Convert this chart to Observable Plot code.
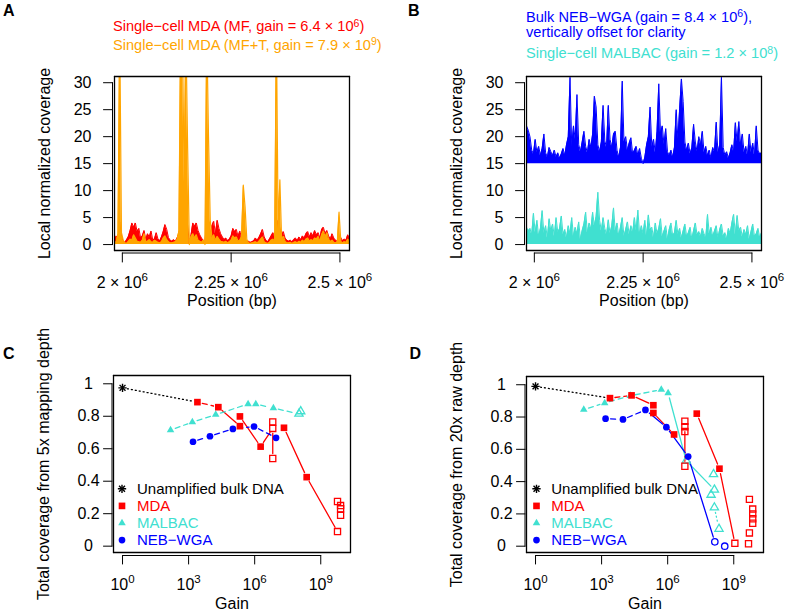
<!DOCTYPE html>
<html><head><meta charset="utf-8">
<script src="https://cdn.jsdelivr.net/npm/d3@7"></script>
<script src="https://cdn.jsdelivr.net/npm/@observablehq/plot@0.6"></script>
<style>
body{margin:0;background:#fff;}
#wrap{position:relative;width:786px;height:611px;font-family:"Liberation Sans",Arial,Helvetica,sans-serif;overflow:hidden;background:#fff}
</style></head><body><div id="wrap"></div>
<script>
// ---------- DATA ----------
// coverage tracks: bins every 4 kb starting at 1,982,000 bp
const posStart = 1982000, posStep = 4000;
const mdaMF = [0.8,1.6,1.0,4.2,1.5,0.6,0.4,0.9,1.5,2.6,
 4.0,3.2,4.0,2.4,3.0,1.2,1.6,2.6,0.9,2.0,
 1.4,2.5,0.8,1.1,2.2,1.0,0.7,1.4,2.4,3.7,
 2.8,1.3,0.8,0.6,0.9,0.6,1.2,2.0,3.5,2.8,
 5.2,4.8,3.6,0.2,1.8,4.0,3.4,4.0,2.6,1.8,
 1.2,0.8,0.2,6.0,4.0,1.6,3.5,4.3,2.0,4.5,
 3.0,2.0,1.4,0.9,1.2,0.7,1.0,1.6,3.0,2.4,
 2.8,1.5,2.5,1.2,0.8,0.5,0.4,0.6,0.4,0.5,
 0.7,1.2,0.8,1.3,2.0,2.8,1.4,0.8,0.5,1.0,
 1.6,2.2,1.5,2.8,4.5,3.0,1.6,2.4,1.2,0.8,
 0.6,0.8,0.5,0.9,1.2,0.7,1.4,0.9,1.6,1.2,
 2.0,2.4,1.4,2.2,1.6,2.6,1.8,2.2,1.2,2.8,
 3.2,2.0,2.6,1.6,1.0,2.0,1.2,0.8,0.6,0.9,
 1.3,0.7,1.0,0.8,1.8,1.2];
const mdaMFT = [0.3,0.5,2.0,40,2.2,0.8,0.3,0.2,0.6,1.0,
 0.8,1.8,1.2,0.6,0.5,0.4,0.8,2.0,0.5,0.6,
 0.9,0.5,0.4,0.8,0.6,0.4,0.3,0.5,1.2,1.6,
 0.9,0.5,0.3,0.3,0.4,0.5,1.0,2.5,40,40,
 11.5,40,18,0.0,1.5,2.0,1.2,1.8,0.8,0.6,
 0.4,0.8,0.0,40,20,4.5,1.2,1.8,0.8,1.5,
 1.0,0.6,0.5,0.4,0.6,0.3,0.5,0.8,1.6,1.2,
 1.4,0.6,0.8,1.5,11,7,1.0,0.3,0.2,0.3,
 0.4,0.5,0.3,0.6,1.0,1.4,0.5,0.3,0.2,0.4,
 0.8,1.0,0.6,40,3.0,12,1.0,1.5,0.6,0.3,
 0.3,0.4,0.2,0.4,0.5,0.3,0.6,0.4,0.8,0.5,
 1.0,1.2,0.6,0.9,0.7,1.2,1.0,1.5,0.6,1.8,
 2.5,1.4,2.2,1.0,0.5,0.8,0.4,0.3,0.5,6.0,
 0.6,0.3,0.5,0.4,1.0,0.6];
const nebOffset = 15; // "vertically offset for clarity"
const nebTrack = [7.0,6.2,5.0,2.5,1.8,4.5,2.0,3.2,1.5,2.8,
 5.5,2.0,1.2,3.0,2.2,1.5,2.5,1.2,2.0,1.0,
 1.8,2.8,1.5,3.5,5.0,16.0,3.0,7.0,4.5,12.8,
 3.5,2.2,4.0,6.0,3.2,2.0,4.5,3.0,5.5,12.5,
 10.5,3.5,2.2,4.0,10.8,4.2,3.0,10.8,4.5,3.0,
 5.5,6.0,2.5,1.2,3.0,15.3,4.0,5.0,2.5,3.8,
 4.8,1.8,2.5,3.2,1.5,2.8,1.0,0.0,1.2,3.5,
 5.0,10.5,3.0,4.5,2.0,6.0,14.8,5.5,7.0,3.5,
 6.5,2.2,1.5,2.5,1.2,3.0,10.0,4.5,10.2,15.7,
 11.5,4.0,2.5,3.8,1.8,3.0,7.3,4.0,2.2,5.0,
 3.5,6.0,2.0,3.2,1.5,2.5,1.0,3.0,2.2,7.7,
 2.0,3.5,16.0,3.0,1.5,2.2,1.0,2.0,3.5,2.2,
 7.6,4.0,7.8,3.5,5.5,2.0,3.2,1.5,5.5,2.0,
 3.8,1.5,7.0,2.5,1.8,2.0];
const malbacTrack = [3.2,2.5,3.0,1.8,5.8,2.2,4.5,1.5,3.0,6.3,
 2.0,3.5,1.2,4.8,2.5,3.8,1.5,5.0,2.2,3.0,
 5.3,1.8,2.8,1.2,3.5,2.0,5.0,1.5,3.2,2.0,
 4.2,1.0,2.6,3.8,6.0,2.2,4.0,2.8,6.0,3.5,
 5.2,9.7,4.5,2.5,5.0,3.0,1.8,4.6,2.0,3.5,
 6.8,2.5,4.0,1.6,3.2,5.0,1.5,2.8,4.2,1.8,
 3.5,2.2,5.0,2.5,6.4,1.8,3.5,2.0,4.5,1.5,
 5.5,2.8,3.2,1.2,4.0,2.0,3.0,4.8,1.5,2.5,
 3.5,1.0,2.8,4.0,1.6,2.2,4.5,1.8,3.0,1.2,
 2.5,3.8,1.5,2.2,3.2,1.0,2.6,4.0,1.8,2.4,
 1.5,3.0,2.0,1.2,5.6,2.0,3.2,1.5,2.5,3.5,
 1.2,2.8,3.8,1.6,2.2,1.0,3.0,2.0,4.0,5.6,
 1.8,5.4,2.5,3.2,1.4,2.8,1.8,3.5,1.0,2.4,
 3.8,1.5,2.0,3.0,1.2,2.2];

// tick values / labels
const posTicks = [2e6, 2.25e6, 2.5e6];
const posTickLabels = ["2 × 10^6", "2.25 × 10^6", "2.5 × 10^6"];
const covTicksAB = [0,5,10,15,20,25,30];
const gainTicks = [0,3,6,9];                // log10 gain
const gainTickLabels = ["10^0","10^3","10^6","10^9"];
const fracTicks = [0,0.2,0.4,0.6,0.8,1];
const fracTickLabels = ["0","0.2","0.4","0.6","0.8","1"];

// Panel C (5x mapping depth): log10 gain and total coverage
const bulkGainC = [0], bulkCovC = [0.975];
const mdaGainC = [3.40,4.35,5.33,5.33,6.27,7.33,8.36];
const mdaCovC  = [0.887,0.856,0.799,0.739,0.613,0.729,0.425];
const mdaOpenGainC = [6.82,6.82,6.82,9.76,9.9,9.9,9.9,9.76];
const mdaOpenCovC  = [0.765,0.725,0.54,0.275,0.25,0.23,0.19,0.09];
const malbacGainC = [2.18,3.17,4.23,5.70,6.05,6.85];
const malbacCovC  = [0.715,0.764,0.810,0.875,0.875,0.850];
const malbacOpenGainC = [8.01,8.09];
const malbacOpenCovC  = [0.815,0.83];
const nebGainC = [3.20,3.97,5.01,5.97,6.97];
const nebCovC  = [0.643,0.677,0.722,0.737,0.667];

// Panel D (20x raw depth)
const bulkGainD = [0], bulkCovD = [0.99];
const mdaGainD = [3.38,4.36,5.35,5.35,6.29,7.32,8.35];
const mdaCovD  = [0.917,0.934,0.873,0.825,0.692,0.821,0.48];
const mdaOpenGainD = [6.78,6.78,6.78,6.78,9.05,9.67,9.71,9.86,9.86,9.86,9.86,9.71];
const mdaOpenCovD  = [0.774,0.74,0.71,0.495,0.018,0.015,0.29,0.23,0.20,0.17,0.142,0.082];
const malbacGainD = [2.19,3.14,4.30,5.71,6.02];
const malbacCovD  = [0.846,0.887,0.932,0.970,0.948];
const malbacOpenGainD = [6.84,8.08,8.12,7.97,8.12,8.33];
const malbacOpenCovD  = [0.53,0.446,0.35,0.318,0.24,0.107];
const nebGainD = [3.18,3.97,4.99,5.94,6.93];
const nebCovD  = [0.79,0.785,0.844,0.737,0.555];
const nebOpenGainD = [8.14,8.59];
const nebOpenCovD  = [0.027,0.0];

// ---------- STYLE ----------
const RED = "#FF0000", ORANGE = "#FFA500", BLUE = "#0000FF", TURQ = "#40E0D0";
const FONT = "Liberation Sans, Arial, Helvetica, sans-serif";
const wrapEl = document.getElementById("wrap");
const SVGNS = "http://www.w3.org/2000/svg";

function supify(svg){
  svg.querySelectorAll("text").forEach(t => {
    const s = t.textContent; const k = s.indexOf("^");
    if (k < 0 || t.children.length) return;
    t.textContent = "";
    const a = document.createElementNS(SVGNS, "tspan"); a.textContent = s.slice(0, k);
    const b = document.createElementNS(SVGNS, "tspan"); b.textContent = s.slice(k + 1);
    b.setAttribute("dy", "-0.55em"); b.setAttribute("font-size", "72%");
    t.append(a, b);
  });
}
function placeSvg(node, left, top){
  node.style.position = "absolute"; node.style.left = left + "px"; node.style.top = top + "px";
  wrapEl.appendChild(node);
}
const lookupLabel = (ticks, labels) => d => labels[ticks.findIndex(t => Math.abs(t - d) < 1e-6 * Math.max(1, Math.abs(t)))];
const zipPts = (g, v) => g.map((x, i) => ({g: x, v: v[i]}));
function axStyle(){ return {fontFamily: FONT, fontSize: "16px", background: "transparent", overflow: "visible"}; }

// Box, axis lines, ticks (drawn as straight segments) and tick labels
function axesMarks(o){
  const {xd, yd, log, fw, fh, xTicks, yTicks, xFmt, yFmt, tick, xOff, yOff, yLabDx, yAnchor, xLabDy} = o;
  const yPer = (yd[1] - yd[0]) / fh;
  const xOut = log ? xd[0] / Math.pow(10, tick * Math.log10(xd[1] / xd[0]) / fw) : xd[0] - tick * (xd[1] - xd[0]) / fw;
  const A = {headLength: 0, stroke: "black", strokeWidth: 1};
  const box = [[xd[0], yd[0], xd[1], yd[0]], [xd[1], yd[0], xd[1], yd[1]], [xd[1], yd[1], xd[0], yd[1]], [xd[0], yd[1], xd[0], yd[0]]];
  return [
    Plot.arrow(box, {x1: d => d[0], y1: d => d[1], x2: d => d[2], y2: d => d[3], ...A, strokeWidth: 1.3}),
    Plot.arrow([0], {x1: () => xd[0], y1: () => yTicks[0], x2: () => xd[0], y2: () => yTicks[yTicks.length - 1], dx: -xOff, ...A}),
    Plot.arrow([0], {x1: () => xTicks[0], y1: () => yd[0], x2: () => xTicks[xTicks.length - 1], y2: () => yd[0], dy: yOff, ...A}),
    Plot.arrow(yTicks, {x1: () => xd[0], y1: d => d, x2: () => xOut, y2: d => d, dx: -xOff, ...A}),
    Plot.arrow(xTicks, {x1: d => d, y1: () => yd[0], x2: d => d, y2: () => yd[0] - tick * yPer, dy: yOff, ...A}),
    Plot.text(yTicks, {x: () => xd[0], y: d => d, text: yFmt, dx: yLabDx, textAnchor: yAnchor, lineAnchor: "middle", fontSize: 16, fill: "black"}),
    Plot.text(xTicks, {x: d => d, y: () => yd[0], text: xFmt, dy: xLabDy, lineAnchor: "middle", fontSize: 16, fill: "black"})
  ];
}

// ---------- PANELS A & B ----------
const rowsA = mdaMF.map((v, i) => ({pos: posStart + i * posStep, mf: v, mft: mdaMFT[i]}));
const rowsB = nebTrack.map((v, i) => ({pos: posStart + i * posStep, neb: v + nebOffset, mal: malbacTrack[i]}));
const posDomain = [posStart, posStart + (mdaMF.length - 1) * posStep];
const covDomain = [-1.1, 31.15];

function trackPlot(marks, mLeft, mRight){
  const fw = 393 - mLeft - mRight, fh = 300 - 76 - 50;
  return Plot.plot({
    width: 393, height: 300, marginLeft: mLeft, marginRight: mRight, marginTop: 76, marginBottom: 50,
    style: axStyle(),
    x: {domain: posDomain, axis: null},
    y: {domain: covDomain, axis: null},
    marks: [
      ...marks,
      ...axesMarks({xd: posDomain, yd: covDomain, log: false, fw, fh, xTicks: posTicks, yTicks: covTicksAB,
        xFmt: lookupLabel(posTicks, posTickLabels), yFmt: d => String(d), tick: 9, xOff: 2, yOff: 2.5,
        yLabDx: -23, yAnchor: "end", xLabDy: 32}),
      Plot.text(["Local normalized coverage"], {frameAnchor: "left", rotate: -90, dx: -70, textAnchor: "middle", lineAnchor: "middle", fontSize: 16}),
      Plot.text(["Position (bp)"], {frameAnchor: "bottom", dy: 50, lineAnchor: "middle", fontSize: 16})
    ]
  });
}
const plotA = trackPlot([
  Plot.areaY(rowsA, {x: "pos", y: "mf", fill: RED, clip: true}),
  Plot.lineY(rowsA, {x: "pos", y: "mf", stroke: RED, strokeWidth: 1, clip: true}),
  Plot.areaY(rowsA, {x: "pos", y: "mft", fill: ORANGE, clip: true}),
  Plot.lineY(rowsA, {x: "pos", y: "mft", stroke: ORANGE, strokeWidth: 1.2, clip: true})
], 114, 44);
const plotB = trackPlot([
  Plot.areaY(rowsB, {x: "pos", y1: () => nebOffset, y2: "neb", fill: BLUE, clip: true}),
  Plot.lineY(rowsB, {x: "pos", y: "neb", stroke: BLUE, strokeWidth: 1, clip: true}),
  Plot.areaY(rowsB, {x: "pos", y: "mal", fill: TURQ, clip: true}),
  Plot.lineY(rowsB, {x: "pos", y: "mal", stroke: TURQ, strokeWidth: 1, clip: true})
], 133, 25);
supify(plotA); supify(plotB);
placeSvg(plotA, 0, 0); placeSvg(plotB, 393, 0);

// ---------- PANELS C & D ----------
const SYM = {
  square:   {symbol: "square", r: 3.75},
  triangle: {symbol: "triangle", r: 2.8},
  circle:   {symbol: "circle", r: 3.35},
  squareO:  {symbol: "square", r: 3.45},
  triangleO:{symbol: "triangle", r: 3.05},
  circleO:  {symbol: "circle", r: 3.2}
};
const gx = d => 10 ** d.g, gy = d => d.v;
function filledDots(data, kind, color){ return Plot.dot(data, {x: gx, y: gy, ...SYM[kind], fill: color}); }
function openDots(data, kind, color){ return Plot.dot(data, {x: gx, y: gy, ...SYM[kind + "O"], fill: "none", stroke: color, strokeWidth: 1.3}); }
function starDots(data){
  return [Plot.dot(data, {x: gx, y: gy, symbol: "plus", r: 2.8, stroke: "black", strokeWidth: 1.4}),
          Plot.dot(data, {x: gx, y: gy, symbol: "times", r: 2.8, stroke: "black", strokeWidth: 1.4})];
}
const DASH = {solid: "none", dash: "5,4", dot: "1,3"};
function linkMarks(list, color){
  return list.map(([a, b, style]) => Plot.arrow([{a, b}], {
    x1: d => 10 ** d.a.g, y1: d => d.a.v, x2: d => 10 ** d.b.g, y2: d => d.b.v,
    stroke: color, strokeWidth: 1.3, headLength: 0, inset: 5, strokeDasharray: DASH[style]
  }));
}
const LEG = [
  {label: "Unamplified bulk DNA", color: "black", kind: "star"},
  {label: "MDA", color: RED, kind: "square"},
  {label: "MALBAC", color: TURQ, kind: "triangle"},
  {label: "NEB−WGA", color: BLUE, kind: "circle"}
];
function legendMarks(dx, dy0, tdx){
  const out = [];
  LEG.forEach((L, i) => {
    const dy = dy0 + i * 17.1;
    if (L.kind === "star") {
      out.push(Plot.dot([0], {frameAnchor: "top-left", dx, dy, symbol: "plus", r: 2.8, stroke: "black", strokeWidth: 1.4}));
      out.push(Plot.dot([0], {frameAnchor: "top-left", dx, dy, symbol: "times", r: 2.8, stroke: "black", strokeWidth: 1.4}));
    } else {
      out.push(Plot.dot([0], {frameAnchor: "top-left", dx, dy, ...SYM[L.kind], fill: L.color}));
    }
    out.push(Plot.text([L.label], {frameAnchor: "top-left", dx: tdx, dy, textAnchor: "start", lineAnchor: "middle", fill: L.color, fontSize: 15}));
  });
  return out;
}
const gainDomain = [10 ** -0.41, 10 ** 10.35];
const fracDomain = [-0.039, 1.051];
function gainPlot(marks, mLeft, mRight, mTop, yTitle, leg){
  const fw = 393 - mLeft - mRight, fh = 311 - mTop - 59;
  const gT = gainTicks.map(g => 10 ** g);
  return Plot.plot({
    width: 393, height: 311, marginLeft: mLeft, marginRight: mRight, marginTop: mTop, marginBottom: 59,
    style: axStyle(),
    x: {type: "log", domain: gainDomain, axis: null},
    y: {domain: fracDomain, axis: null},
    marks: [
      ...axesMarks({xd: gainDomain, yd: fracDomain, log: true, fw, fh, xTicks: gT, yTicks: fracTicks,
        xFmt: d => gainTickLabels[gainTicks.indexOf(Math.round(Math.log10(d)))], yFmt: lookupLabel(fracTicks, fracTickLabels),
        tick: 8.5, xOff: 1.5, yOff: 3, yLabDx: -25, yAnchor: "middle", xLabDy: 32}),
      ...marks,
      ...legendMarks(...leg),
      Plot.text([yTitle], {frameAnchor: "left", rotate: -90, dx: -70, textAnchor: "middle", lineAnchor: "middle", fontSize: 16}),
      Plot.text(["Gain"], {frameAnchor: "bottom", dy: 51, lineAnchor: "middle", fontSize: 16})
    ]
  });
}
// Panel C
const bC = zipPts(bulkGainC, bulkCovC), mC = zipPts(mdaGainC, mdaCovC), moC = zipPts(mdaOpenGainC, mdaOpenCovC);
const aC = zipPts(malbacGainC, malbacCovC), aoC = zipPts(malbacOpenGainC, malbacOpenCovC), nC = zipPts(nebGainC, nebCovC);
const plotC = gainPlot([
  ...linkMarks([[bC[0], mC[0], "dot"]], "black"),
  ...linkMarks([[mC[0], mC[1], "dash"], [mC[1], mC[3], "solid"], [mC[2], mC[4], "solid"], [mC[4], moC[1], "solid"],
            [moC[1], moC[2], "solid"], [mC[5], mC[6], "solid"], [mC[6], moC[7], "solid"]], RED),
  ...linkMarks([[aC[0], aC[1], "dash"], [aC[1], aC[2], "dash"], [aC[2], aC[3], "dash"], [aC[4], aC[5], "dash"], [aC[5], aoC[0], "dash"]], TURQ),
  ...linkMarks([[nC[0], nC[1], "dash"], [nC[1], nC[2], "dash"], [nC[2], nC[3], "dash"], [nC[3], nC[4], "dash"]], BLUE),
  filledDots(aC, "triangle", TURQ), openDots(aoC, "triangle", TURQ),
  filledDots(nC, "circle", BLUE),
  filledDots(mC, "square", RED), openDots(moC, "square", RED),
  ...starDots(bC)
], 113, 43, 75, "Total coverage from 5x mapping depth", [8.5, 113.3, 23.5]);
// Panel D
const bD = zipPts(bulkGainD, bulkCovD), mD = zipPts(mdaGainD, mdaCovD), moD = zipPts(mdaOpenGainD, mdaOpenCovD);
const aD = zipPts(malbacGainD, malbacCovD), aoD = zipPts(malbacOpenGainD, malbacOpenCovD);
const nD = zipPts(nebGainD, nebCovD), noD = zipPts(nebOpenGainD, nebOpenCovD);
const plotD = gainPlot([
  ...linkMarks([[bD[0], mD[0], "dot"]], "black"),
  ...linkMarks([[mD[0], mD[1], "dash"], [mD[1], mD[2], "solid"], [mD[3], mD[4], "solid"], [moD[1], moD[3], "solid"],
            [mD[5], mD[6], "solid"], [mD[6], moD[4], "solid"]], RED),
  ...linkMarks([[aD[0], aD[1], "dash"], [aD[1], aD[2], "dash"], [aD[2], aD[3], "dash"], [aD[4], aoD[0], "solid"],
            [aoD[0], aoD[2], "solid"], [aoD[4], aoD[5], "dot"]], TURQ),
  ...linkMarks([[nD[0], nD[1], "dash"], [nD[1], nD[2], "dash"], [nD[2], nD[3], "solid"], [nD[3], nD[4], "solid"], [nD[4], noD[0], "solid"]], BLUE),
  filledDots(aD, "triangle", TURQ), openDots(aoD, "triangle", TURQ),
  filledDots(nD, "circle", BLUE), openDots(noD, "circle", BLUE),
  filledDots(mD, "square", RED), openDots(moD, "square", RED),
  ...starDots(bD)
], 133, 23, 76, "Total coverage from 20x raw depth", [10, 112.3, 24.7]);
supify(plotC); supify(plotD);
placeSvg(plotC, 0, 300); placeSvg(plotD, 393, 300);

// ---------- TITLES & PANEL LETTERS ----------
function addText(html, left, baseline, color, fs, bold){
  const d = document.createElement("div"); d.innerHTML = html;
  Object.assign(d.style, {position: "absolute", left: left + "px", top: (baseline - 0.8465 * fs) + "px",
    fontSize: fs + "px", lineHeight: "1", whiteSpace: "nowrap", color: color, fontWeight: bold ? "bold" : "normal"});
  wrapEl.appendChild(d);
}
const supHtml = s => `<span style="position:relative;top:-0.42em;font-size:72%">${s}</span>`;
addText(`Single−cell MDA (MF, gain = 6.4 × 10${supHtml(6)})`, 113, 31.5, RED, 14.6);
addText(`Single−cell MDA (MF+T, gain = 7.9 × 10${supHtml(9)})`, 113, 50, ORANGE, 14.6);
addText(`Bulk NEB−WGA (gain = 8.4 × 10${supHtml(6)}),`, 526, 22, BLUE, 14.6);
addText(`vertically offset for clarity`, 526, 37.5, BLUE, 14.6);
addText(`Single−cell MALBAC (gain = 1.2 × 10${supHtml(8)})`, 526, 58.5, TURQ, 14.6);
addText("A", 3, 17, "black", 16, true);
addText("B", 408, 17, "black", 16, true);
addText("C", 3, 360, "black", 16, true);
addText("D", 409.5, 360, "black", 16, true);
</script></body></html>
